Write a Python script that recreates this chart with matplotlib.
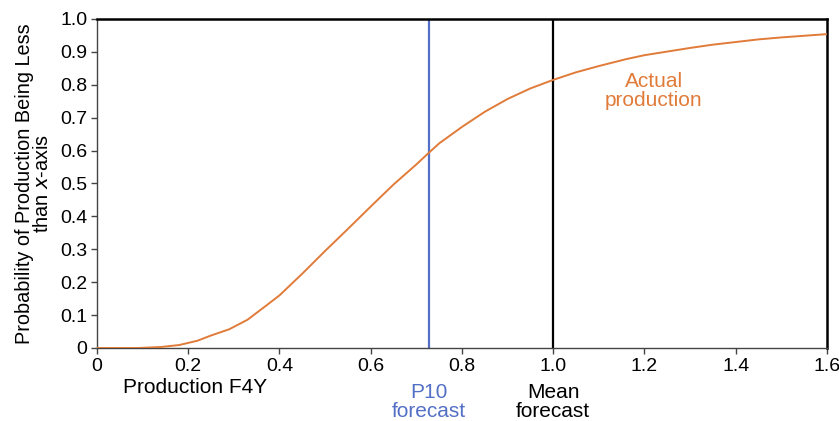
import matplotlib
matplotlib.use("Agg")
import matplotlib.pyplot as plt

plt.rcParams['font.family'] = ['Liberation Sans', 'DejaVu Sans']

# Cumulative distribution of actual production (normalised to the mean forecast)
production = [0, 0.09, 0.14, 0.18, 0.22, 0.25, 0.29, 0.33, 0.37, 0.40, 0.45,
              0.50, 0.55, 0.60, 0.65, 0.70, 0.727, 0.75, 0.80, 0.85, 0.90,
              0.95, 1.0, 1.05, 1.1, 1.16, 1.2, 1.25, 1.3, 1.35, 1.4, 1.45,
              1.5, 1.55, 1.6]
probability = [0, 0, 0.003, 0.009, 0.022, 0.038, 0.057, 0.086, 0.128, 0.16,
               0.226, 0.295, 0.362, 0.43, 0.497, 0.558, 0.593, 0.622, 0.672,
               0.718, 0.757, 0.789, 0.815, 0.838, 0.857, 0.878, 0.89, 0.901,
               0.912, 0.922, 0.93, 0.938, 0.944, 0.949, 0.954]

p10_forecast = 0.727
mean_forecast = 1.0

x_ticks = [0, 0.2, 0.4, 0.6, 0.8, 1.0, 1.2, 1.4, 1.6]
x_tick_labels = ["0", "0.2", "0.4", "0.6", "0.8", "1.0", "1.2", "1.4", "1.6"]
y_ticks = [0, 0.1, 0.2, 0.3, 0.4, 0.5, 0.6, 0.7, 0.8, 0.9, 1.0]
y_tick_labels = ["0", "0.1", "0.2", "0.3", "0.4", "0.5", "0.6", "0.7", "0.8", "0.9", "1.0"]

orange = "#E07B39"
blue = "#5470C6"

fig = plt.figure(figsize=(8.39, 4.21), dpi=100)
ax = fig.add_axes([0.1156, 0.1734, 0.8701, 0.7815])

ax.plot(production, probability, color=orange, lw=1.4, zorder=3)
ax.axvline(p10_forecast, color=blue, lw=1.6, zorder=2)
ax.axvline(mean_forecast, color="black", lw=1.6, zorder=2)

ax.set_xlim(0, 1.6)
ax.set_ylim(0, 1.0)
ax.set_xticks(x_ticks)
ax.set_xticklabels(x_tick_labels, fontsize=14)
ax.set_yticks(y_ticks)
ax.set_yticklabels(y_tick_labels, fontsize=14)
ax.tick_params(direction="out", length=4, width=1, color="#444444", pad=3)

for side in ("top", "right"):
    ax.spines[side].set_linewidth(1.8)
    ax.spines[side].set_color("black")
for side in ("left", "bottom"):
    ax.spines[side].set_linewidth(1.0)
    ax.spines[side].set_color("#444444")

ax.set_ylabel("Probability of Production Being Less\nthan $\\mathit{x}$-axis",
              fontsize=14.3, linespacing=0.95)
ax.yaxis.set_label_coords(-0.061, 0.5)

ax.text(0.215, -0.12, "Production F4Y", fontsize=15, ha="center", va="center",
        transform=ax.get_xaxis_transform())
ax.text(p10_forecast, -0.163, "P10\nforecast", fontsize=15, ha="center",
        va="center", color=blue, linespacing=1.0,
        transform=ax.get_xaxis_transform())
ax.text(mean_forecast, -0.163, "Mean\nforecast", fontsize=15, ha="center",
        va="center", color="black", linespacing=1.0,
        transform=ax.get_xaxis_transform())
ax.text(1.22, 0.78, "Actual\nproduction", fontsize=15, ha="center",
        va="center", color=orange, linespacing=1.0)

fig.savefig("out.png", dpi=100)
